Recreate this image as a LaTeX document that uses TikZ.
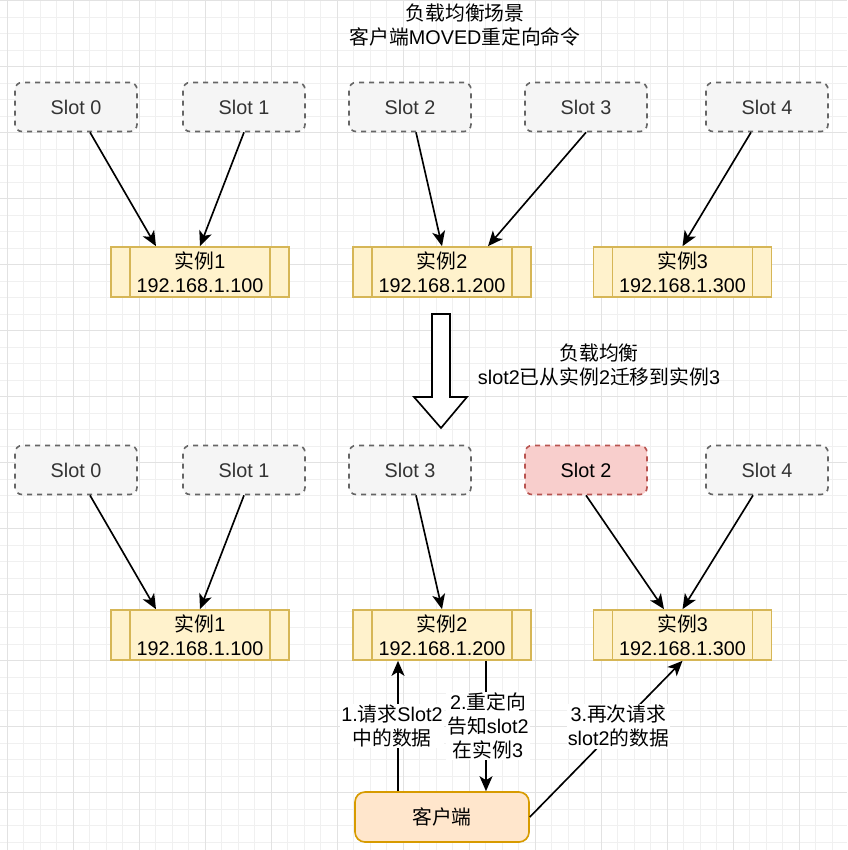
\documentclass[tikz,border=0pt]{standalone}
\usepackage{fontspec}
\setmainfont{Liberation Sans}
\newfontfamily\cjk{Noto Sans CJK SC}
\usetikzlibrary{arrows.meta}
\definecolor{gridminor}{HTML}{F0F0F0}
\definecolor{gridmajor}{HTML}{E2E2E2}
\definecolor{slotfill}{HTML}{F5F5F5}
\definecolor{slotline}{HTML}{666666}
\definecolor{slottext}{HTML}{333333}
\definecolor{redfill}{HTML}{F8CECC}
\definecolor{redline}{HTML}{B85450}
\definecolor{instfill}{HTML}{FFF2CC}
\definecolor{instline}{HTML}{D6B656}
\definecolor{clfill}{HTML}{FFE6CC}
\definecolor{clline}{HTML}{D79B00}
\tikzset{
  every node/.style={font=\fontsize{19.8}{24}\selectfont},
  slotbox/.style={draw=slotline, fill=slotfill, text=slottext, dash pattern=on 5pt off 5pt,
    line width=1.65pt, rounded corners=7pt, minimum width=122pt, minimum height=49pt},
  redslot/.style={slotbox, draw=redline, fill=redfill, text=black},
  inst/.style={draw=instline, fill=instfill, line width=1.65pt, minimum width=178pt,
    minimum height=50pt, align=center, inner sep=0pt,
    path picture={
      \draw[instline, line width=1.65pt]
        ([xshift=19pt]path picture bounding box.north west) -- ([xshift=19pt]path picture bounding box.south west)
        ([xshift=-19pt]path picture bounding box.north east) -- ([xshift=-19pt]path picture bounding box.south east);
    }},
  client/.style={draw=clline, fill=clfill, line width=1.65pt, rounded corners=10pt,
    minimum width=174pt, minimum height=50pt},
  arr/.style={draw=black, line width=1.65pt, -{Stealth[length=15pt, width=13pt, inset=4pt]}},
  lbl/.style={fill=white, align=center, inner sep=1pt},
  plain/.style={align=center}
}
\begin{document}
\begin{tikzpicture}[x=1pt, y=-1pt]
\useasboundingbox (0,0) rectangle (847,850);
% grid
\foreach \i in {0,...,52} {
  \pgfmathsetmacro\gx{7.3+16.5*(\i-1)}
  \pgfmathsetmacro\gy{0.7+16.5*(\i-1)}
  \draw[gridminor, line width=1pt] (\gx,0) -- (\gx,850);
  \draw[gridminor, line width=1pt] (0,\gy) -- (847,\gy);
}
\foreach \i in {0,...,13} {
  \pgfmathsetmacro\gx{7.3+66*\i}
  \pgfmathsetmacro\gy{0.7+66*\i}
  \draw[gridmajor, line width=1pt] (\gx,0) -- (\gx,850);
  \draw[gridmajor, line width=1pt] (0,\gy) -- (847,\gy);
}
% title
\node[plain] (title) at (465,25.5) {{\cjk 负载均衡场景}\\{\cjk 客户端}MOVED{\cjk 重定向命令}};
% top row
\node[slotbox] (a0) at (76,107) {Slot 0};
\node[slotbox] (a1) at (244,107) {Slot 1};
\node[slotbox] (a2) at (410,107) {Slot 2};
\node[slotbox] (a3) at (586,107) {Slot 3};
\node[slotbox] (a4) at (767,107) {Slot 4};
\node[inst] (i1) at (200,272) {{\cjk 实例}1\\192.168.1.100};
\node[inst] (i2) at (442,272) {{\cjk 实例}2\\192.168.1.200};
\node[inst] (i3) at (682.5,272) {{\cjk 实例}3\\192.168.1.300};
\draw[arr] ([xshift=14pt]a0.south) -- ([xshift=-44pt]i1.north);
\draw[arr] (a1.south) -- (i1.north);
\draw[arr] ([xshift=6pt]a2.south) -- (i2.north);
\draw[arr] (a3.south) -- ([xshift=46pt]i2.north);
\draw[arr] ([xshift=-16pt]a4.south) -- (i3.north);
% big hollow arrow
\draw[line width=1.65pt, fill=white] (432,314) -- (450,314) -- (450,397) -- (467,397) -- (441,428) -- (414,397) -- (432,397) -- cycle;
\node[plain] (mid) at (599,365) {{\cjk 负载均衡}\\slot2{\cjk 已从实例}2{\cjk 迁移到实例}3};
% bottom row
\node[slotbox] (b0) at (76,470) {Slot 0};
\node[slotbox] (b1) at (244,470) {Slot 1};
\node[slotbox] (b3) at (410,470) {Slot 3};
\node[redslot] (b2) at (586,470) {Slot 2};
\node[slotbox] (b4) at (767,470) {Slot 4};
\node[inst] (j1) at (200,635) {{\cjk 实例}1\\192.168.1.100};
\node[inst] (j2) at (442,635) {{\cjk 实例}2\\192.168.1.200};
\node[inst] (j3) at (682.5,635) {{\cjk 实例}3\\192.168.1.300};
\draw[arr] ([xshift=14pt]b0.south) -- ([xshift=-44pt]j1.north);
\draw[arr] (b1.south) -- (j1.north);
\draw[arr] ([xshift=6pt]b3.south) -- (j2.north);
\draw[arr] (b2.south) -- ([xshift=-18.5pt]j3.north);
\draw[arr] ([xshift=-14pt]b4.south) -- (j3.north);
% client
\node[client] (cl) at (442,817) {{\cjk 客户端}};
\draw[arr] ([xshift=-44pt]cl.north) -- node[lbl, xshift=-6pt, pos=0.5] (l1) {1.{\cjk 请求}Slot2\\{\cjk 中的数据}} ([xshift=-44pt]j2.south);
\draw[arr] ([xshift=44pt]j2.south) -- node[lbl, xshift=2pt, pos=0.5] (l2) {2.{\cjk 重定向}\\{\cjk 告知}slot2\\{\cjk 在实例}3} ([xshift=44pt]cl.north);
\draw[arr] (cl.east) -- node[lbl, pos=0.58] (l3) {3.{\cjk 再次请求}\\slot2{\cjk 的数据}} (j3.south);
\end{tikzpicture}
\end{document}
